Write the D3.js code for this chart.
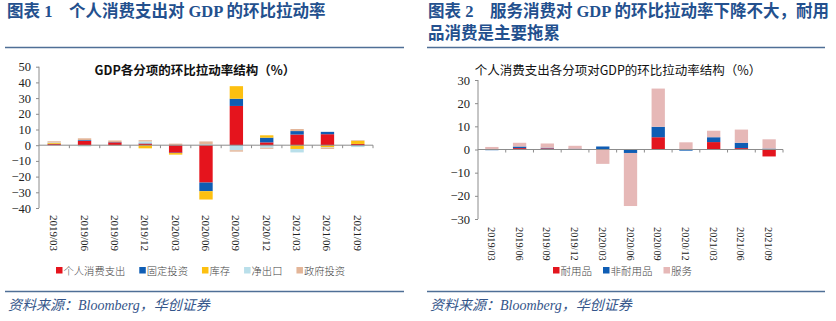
<!DOCTYPE html>
<html>
<head>
<meta charset="utf-8">
<script src="https://cdn.jsdelivr.net/npm/d3@7"></script>
<style>
  body { margin: 0; background: #fff; }
  svg { display: block; }
</style>
</head>
<body>
<div id="chart"></div>
<script>
// quarters shared by both panels
var quarters = ["2019/03", "2019/06", "2019/09", "2019/12", "2020/03", "2020/06",
                "2020/09", "2020/12", "2021/03", "2021/06", "2021/09"];

// left panel: GDP components, annualised q/q contribution (%)
var gdpSeries = ["个人消费支出", "固定投资", "库存", "净出口", "政府投资"];
var pce       = [0.7, 2.7, 1.8, 1.0, -4.8, -23.8, 25.0, 1.8, 6.8, 7.0, 0.8];
var fixedInv  = [0.2, 0.5, 0.2, 0.2, -0.2, -5.5, 4.6, 3.0, 2.2, 1.5, -0.2];
var inventory = [0.5, -0.2, -0.2, -2.0, -1.0, -5.3, 8.0, 1.5, -2.4, -1.3, 2.0];
var netExport = [0.3, -0.6, -0.3, 1.2, 0.2, 0.6, -3.2, -1.6, -2.2, -0.3, -1.0];
var govInv    = [0.8, 1.2, 1.0, 0.8, 0.8, 1.8, -0.9, -0.7, 1.3, -0.8, 0.4];
var gdpTicks  = [50, 40, 30, 20, 10, 0, -10, -20, -30, -40];

// right panel: personal consumption components
var pceSeries = ["耐用品", "非耐用品", "服务"];
var durables    = [0.1, 0.6, 0.5, 0.3, -0.2, -0.2, 5.3, -0.2, 3.2, 0.6, -3.0];
var nondurables = [-0.3, 0.7, 0.3, 0.1, 1.3, -1.3, 4.5, -0.3, 2.1, 2.3, 0.4];
var services    = [1.0, 1.6, 1.8, 1.2, -6.0, -22.9, 16.5, 3.1, 2.8, 5.7, 4.0];
var pceTicks    = [30, 20, 10, 0, -10, -20, -30];

var W = 836, H = 321;
var titleColor = "#23508e";
var serif = "'Liberation Serif', 'Noto Sans CJK SC', serif";
var sans = "'Noto Sans CJK SC', 'Noto Sans', sans-serif";

var svg = d3.select("#chart").append("svg")
    .attr("width", W)
    .attr("height", H);

function buildRows(lists) {
    return quarters.map(function(q, i) {
        var row = { q: q };
        lists.forEach(function(l, j) { row[j] = l[i]; });
        return row;
    });
}

function drawPanel(opt) {
    var g = svg.append("g");

    // header
    opt.title.forEach(function(line, i) {
        g.append("text")
            .attr("x", opt.titleX)
            .attr("y", 17 + i * 22)
            .attr("font-family", serif)
            .attr("font-weight", "bold")
            .attr("font-size", 16.5)
            .attr("fill", titleColor)
            .attr("xml:space", "preserve")
            .text(line);
    });
    g.append("line")
        .attr("x1", opt.ruleX0).attr("x2", opt.ruleX1)
        .attr("y1", 47.5).attr("y2", 47.5)
        .attr("stroke", "#4f6f96").attr("stroke-width", 1.5);
    g.append("line")
        .attr("x1", opt.ruleX0).attr("x2", opt.ruleX1)
        .attr("y1", 291.5).attr("y2", 291.5)
        .attr("stroke", "#4f6f96").attr("stroke-width", 1.5);
    g.append("text")
        .attr("x", opt.ruleX0 + 3)
        .attr("y", 310)
        .attr("font-family", serif)
        .attr("font-style", "italic")
        .attr("font-size", 14)
        .attr("fill", "#34558a")
        .text("资料来源：Bloomberg，华创证券");

    // chart title
    g.append("text")
        .attr("x", opt.subX)
        .attr("y", 75)
        .attr("text-anchor", "middle")
        .attr("font-family", sans)
        .attr("font-weight", opt.subBold ? "bold" : "normal")
        .attr("font-size", 12.5)
        .attr("fill", "#111")
        .text(opt.sub);

    var x = d3.scaleBand()
        .domain(quarters)
        .range([opt.x0, opt.x1])
        .paddingInner(opt.pad)
        .paddingOuter(opt.pad / 2);

    var y = d3.scaleLinear()
        .domain(opt.domain)
        .range([opt.yBottom, opt.yTop]);

    var stack = d3.stack()
        .keys(d3.range(opt.lists.length))
        .offset(d3.stackOffsetDiverging);

    var layers = stack(buildRows(opt.lists));

    g.selectAll(".layer")
        .data(layers)
        .enter().append("g")
        .attr("fill", function(d, i) { return opt.colors[i]; })
        .selectAll("rect")
        .data(function(d) { return d; })
        .enter().append("rect")
        .attr("x", function(d) { return x(d.data.q); })
        .attr("width", x.bandwidth())
        .attr("y", function(d) { return y(Math.max(d[0], d[1])); })
        .attr("height", function(d) { return Math.abs(y(d[0]) - y(d[1])); });

    // y axis
    var yAxis = g.append("g")
        .attr("transform", "translate(" + opt.x0 + ",0)")
        .call(d3.axisLeft(y).tickValues(opt.ticks).tickSize(3).tickPadding(5));
    yAxis.selectAll("path, line").attr("stroke", "#8c8c8c");
    yAxis.selectAll("text")
        .attr("font-family", serif)
        .attr("font-size", 12.5)
        .attr("fill", "#222");
    yAxis.select(".domain").attr("d", "M0," + opt.yBottom + "V" + opt.yTop);

    // zero line with boundary ticks
    var zero = y(0);
    g.append("line")
        .attr("x1", opt.x0).attr("x2", opt.x1)
        .attr("y1", zero).attr("y2", zero)
        .attr("stroke", "#8c8c8c");
    var step = x.step();
    d3.range(1, quarters.length + 1).forEach(function(k) {
        var xx = opt.x0 + step * k;
        g.append("line")
            .attr("x1", xx).attr("x2", xx)
            .attr("y1", zero).attr("y2", zero + 3)
            .attr("stroke", "#8c8c8c");
    });

    // category labels (rotated)
    g.selectAll(".qlab")
        .data(quarters)
        .enter().append("text")
        .attr("transform", function(d) {
            return "translate(" + (x(d) + x.bandwidth() / 2 - 4) + "," + opt.labelY + ") rotate(90)";
        })
        .attr("font-family", serif)
        .attr("font-size", opt.labelSize)
        .attr("fill", "#222")
        .text(function(d) { return d; });

    // legend
    var lg = g.append("g");
    var cx = opt.legendX;
    opt.names.forEach(function(n, i) {
        lg.append("rect")
            .attr("x", cx).attr("y", 267)
            .attr("width", 6.5).attr("height", 6.5)
            .attr("fill", opt.colors[i]);
        var t = lg.append("text")
            .attr("x", cx + 7.5)
            .attr("y", 274.5)
            .attr("font-family", sans)
            .attr("font-weight", 300)
            .attr("font-size", opt.legendSize)
            .attr("fill", "#444")
            .text(n);
        cx += 7.5 + t.node().getComputedTextLength() + opt.legendGap;
    });
}

drawPanel({
    title: ["图表 1    个人消费支出对 GDP 的环比拉动率"],
    titleX: 7, ruleX0: 5, ruleX1: 404,
    sub: "GDP各分项的环比拉动率结构（%）", subX: 195, subBold: true,
    x0: 39, x1: 373, pad: 0.56,
    domain: [-40, 50], yBottom: 208, yTop: 66.7,
    ticks: gdpTicks, labelY: 215, labelSize: 11,
    lists: [pce, fixedInv, inventory, netExport, govInv],
    names: gdpSeries,
    colors: ["#e5141d", "#0f5db4", "#fdc010", "#b9dfea", "#e3b598"],
    legendX: 56, legendGap: 14, legendSize: 10.3
});

drawPanel({
    title: ["图表 2    服务消费对 GDP 的环比拉动率下降不大，耐用", "品消费是主要拖累"],
    titleX: 428, ruleX0: 427, ruleX1: 825,
    sub: "个人消费支出各分项对GDP的环比拉动率结构（%）", subX: 618, subBold: false,
    x0: 478, x1: 783, pad: 0.52,
    domain: [-30, 30], yBottom: 219, yTop: 80,
    ticks: pceTicks, labelY: 227, labelSize: 10.3,
    lists: [durables, nondurables, services],
    names: pceSeries,
    colors: ["#e3151e", "#0f5db4", "#e6b8b7"],
    legendX: 553, legendGap: 11, legendSize: 10.5
});
</script>
</body>
</html>
